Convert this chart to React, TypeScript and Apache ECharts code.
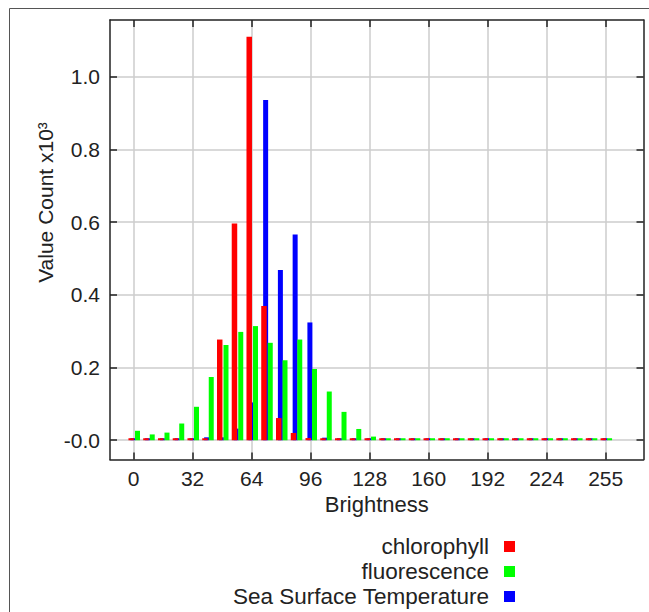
import React, { useEffect, useRef } from 'react';
import * as echarts from 'echarts';

// Histogram bin positions (brightness)
const binStarts = [0, 8, 16, 24, 32, 40, 48, 56, 64, 72, 80, 88, 96, 104, 112, 120, 128, 136, 144, 152, 160, 168, 176, 184, 192, 200, 208, 216, 224, 232, 240, 248, 256];

// Value counts per bin
const chlorophyll = [0, 0, 0, 0, 0, 3, 277, 596, 1110, 369, 61, 20, 6, 0, 0, 0, 0, 0, 0, 0, 0, 0, 0, 0, 0, 0, 0, 0, 0, 0, 0, 0, 0];
const fluorescence = [26, 16, 21, 46, 92, 174, 262, 298, 314, 268, 220, 277, 196, 134, 78, 31, 10, 0, 0, 0, 0, 0, 0, 0, 0, 0, 0, 0, 0, 0, 0, 0, 0];
const seaSurfaceTemperature = [0, 0, 0, 0, 5, 8, 8, 32, 104, 936, 468, 566, 324, 7, 0, 0, 0, 0, 0, 0, 0, 0, 0, 0, 0, 0, 0, 0, 0, 0, 0, 0, 0];

const seriesNames = ['chlorophyll', 'fluorescence', 'Sea Surface Temperature'];

const xTickValues = [0, 32, 64, 96, 128, 160, 192, 224, 256];
const xTickLabels = ['0', '32', '64', '96', '128', '160', '192', '224', '255'];
const yTickValues = [0, 200, 400, 600, 800, 1000];
const yTickLabels = ['-0.0', '0.2', '0.4', '0.6', '0.8', '1.0'];

const X_MIN = -12.8;
const X_MAX = 276.5;
const Y_MIN = -53;
const Y_MAX = 1156;

const FONT = '"Liberation Sans", Arial, Helvetica, sans-serif';
const INK = '#222';
const GRID_GRAY = '#cccccc';

export default function App() {
  const ref = useRef<HTMLDivElement>(null);

  useEffect(() => {
    if (!ref.current) return;
    const chart = echarts.init(ref.current, undefined, { renderer: 'svg' });

    const axisLine = { show: true, onZero: false, lineStyle: { color: INK, width: 1.5 } };
    const tickStyle = { color: INK, width: 1.5 };

    const xBase = { type: 'value', min: X_MIN, max: X_MAX };
    const yBase = { type: 'value', min: Y_MIN, max: Y_MAX };

    const option: any = {
      animation: false,
      backgroundColor: '#ffffff',
      grid: { left: 110, top: 20, right: 5.5, bottom: 152.5 },
      xAxis: [
        {
          ...xBase,
          position: 'bottom',
          axisLine,
          axisTick: { show: true, inside: true, length: 7, customValues: xTickValues, lineStyle: tickStyle },
          axisLabel: {
            customValues: xTickValues,
            formatter: (v: number) => xTickLabels[xTickValues.indexOf(v)] ?? String(v),
            margin: 8,
            fontSize: 21,
            fontFamily: FONT,
            color: INK,
          },
          splitLine: { show: true, lineStyle: { color: GRID_GRAY, width: 1.5 } },
          name: 'Brightness',
          nameLocation: 'middle',
          nameGap: 34,
          nameTextStyle: { fontSize: 22, fontFamily: FONT, color: INK },
        },
        {
          ...xBase,
          position: 'top',
          axisLine,
          axisTick: { show: true, inside: true, length: 7, customValues: xTickValues, lineStyle: tickStyle },
          axisLabel: { show: false },
          splitLine: { show: false },
        },
        {
          ...xBase,
          show: false,
          position: 'bottom',
        },
      ],
      yAxis: [
        {
          ...yBase,
          position: 'left',
          axisLine,
          axisTick: { show: true, inside: true, length: 7, customValues: yTickValues, lineStyle: tickStyle },
          axisLabel: {
            customValues: yTickValues,
            formatter: (v: number) => yTickLabels[yTickValues.indexOf(v)] ?? String(v),
            margin: 10,
            fontSize: 21,
            fontFamily: FONT,
            color: INK,
          },
          splitLine: { show: true, lineStyle: { color: GRID_GRAY, width: 1.5 } },
        },
        {
          ...yBase,
          position: 'right',
          axisLine,
          axisTick: { show: true, inside: true, length: 7, customValues: yTickValues, lineStyle: tickStyle },
          axisLabel: { show: false },
          splitLine: { show: false },
        },
      ],
      legend: {
        data: seriesNames,
        orient: 'vertical',
        right: 134,
        top: 535,
        align: 'right',
        icon: 'rect',
        itemWidth: 11,
        itemHeight: 11,
        itemGap: 2,
        padding: 0,
        selectedMode: false,
        textStyle: { fontSize: 22.5, fontFamily: FONT, color: INK, padding: [0, 10, 0, 0] },
      },
      graphic: [
        {
          type: 'rect',
          silent: true,
          z: -10,
          shape: { x: 9.5, y: 8.5, width: 700, height: 700 },
          style: { fill: 'none', stroke: '#555', lineWidth: 1 },
        },
        {
          type: 'text',
          x: 45.5,
          y: 202.5,
          rotation: Math.PI / 2,
          style: {
            text: 'Value Count x10³',
            font: '21px "Liberation Sans", Arial, sans-serif',
            fill: INK,
            align: 'center',
            verticalAlign: 'middle',
            textAlign: 'center',
            textVerticalAlign: 'middle',
          },
        },
      ],
      series: [
        {
          type: 'bar',
          name: seriesNames[2],
          xAxisIndex: 1,
          yAxisIndex: 0,
          barWidth: 5,
          barMinHeight: 2,
          itemStyle: { color: '#0000ff' },
          data: binStarts.map((b, i) => [b - 0.4, seaSurfaceTemperature[i]]),
        },
        {
          type: 'bar',
          name: seriesNames[0],
          xAxisIndex: 0,
          yAxisIndex: 0,
          barWidth: 5.5,
          barMinHeight: 2,
          itemStyle: { color: '#ff0000' },
          data: binStarts.map((b, i) => [b - 1.3, chlorophyll[i]]),
        },
        {
          type: 'bar',
          name: seriesNames[1],
          xAxisIndex: 2,
          yAxisIndex: 0,
          barWidth: 5,
          barMinHeight: 2,
          itemStyle: { color: '#00ff00' },
          data: binStarts.map((b, i) => [b + 2.1, fluorescence[i]]),
        },
      ],
    };

    chart.setOption(option);
    return () => chart.dispose();
  }, []);

  return (
    <div
      ref={ref}
      style={{ position: 'fixed', left: 0, top: 0, width: 649, height: 612, background: '#fff' }}
    />
  );
}
